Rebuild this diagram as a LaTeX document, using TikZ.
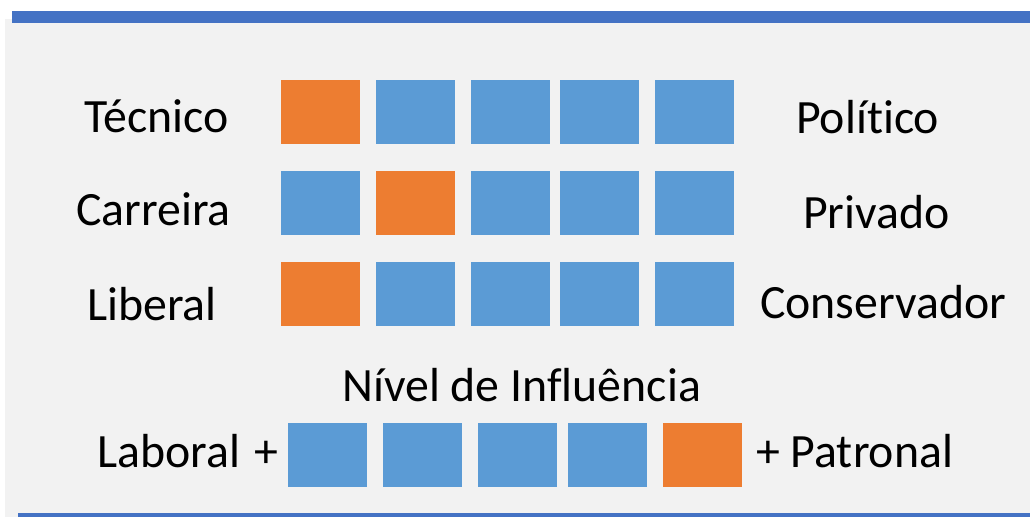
\documentclass[tikz,border=0pt]{standalone}
\usepackage{fontspec}
\setmainfont{Carlito}[Ligatures=NoCommon]
\definecolor{bgray}{HTML}{F2F2F2}
\definecolor{lineblue}{HTML}{4472C4}
\definecolor{boxblue}{HTML}{5B9BD5}
\definecolor{boxorange}{HTML}{ED7D31}
\tikzset{
  sq/.style={anchor=north west, inner sep=0pt, outer sep=0pt, minimum width=79pt, minimum height=64pt, draw=none},
  bsq/.style={sq, fill=boxblue},
  osq/.style={sq, fill=boxorange},
  lbl/.style={anchor=base west, inner sep=0pt, font=\fontsize{47.8}{52}\selectfont}
}
\begin{document}
\begin{tikzpicture}[x=1pt,y=-1pt]
\useasboundingbox (0,0) rectangle (1030,517);
\fill[bgray] (5,19) rectangle (1030,517);
\fill[lineblue] (12,11) rectangle (1030,23);
\fill[lineblue] (18,513) rectangle (1030,517);
% row 1
\node[osq] (r1c1) at (281,80) {};
\node[bsq] (r1c2) at (376,80) {};
\node[bsq] (r1c3) at (471,80) {};
\node[bsq] (r1c4) at (560,80) {};
\node[bsq] (r1c5) at (655,80) {};
% row 2
\node[bsq] (r2c1) at (281,171) {};
\node[osq] (r2c2) at (376,171) {};
\node[bsq] (r2c3) at (471,171) {};
\node[bsq] (r2c4) at (560,171) {};
\node[bsq] (r2c5) at (655,171) {};
% row 3
\node[osq] (r3c1) at (281,262) {};
\node[bsq] (r3c2) at (376,262) {};
\node[bsq] (r3c3) at (471,262) {};
\node[bsq] (r3c4) at (560,262) {};
\node[bsq] (r3c5) at (655,262) {};
% row 4
\node[bsq] (r4c1) at (288,423) {};
\node[bsq] (r4c2) at (383,423) {};
\node[bsq] (r4c3) at (478,423) {};
\node[bsq] (r4c4) at (568,423) {};
\node[osq] (r4c5) at (663,423) {};
% labels
\node[lbl] (tec) at (84,132) {Técnico};
\node[lbl] (car) at (76,225) {Carreira};
\node[lbl] (lib) at (87,320) {Liberal};
\node[lbl] (pol) at (796,133) {Político};
\node[lbl] (pri) at (803,228) {Privado};
\node[lbl] (con) at (760,318) {Conservador};
\node[lbl] (niv) at (342,401) {Nível de Influência};
\node[lbl] (lab) at (97,467) {Laboral};
\node[lbl] (plus) at (254,467) {+};
\node[lbl] (pat) at (756,467) {+ Patronal};
\end{tikzpicture}
\end{document}
